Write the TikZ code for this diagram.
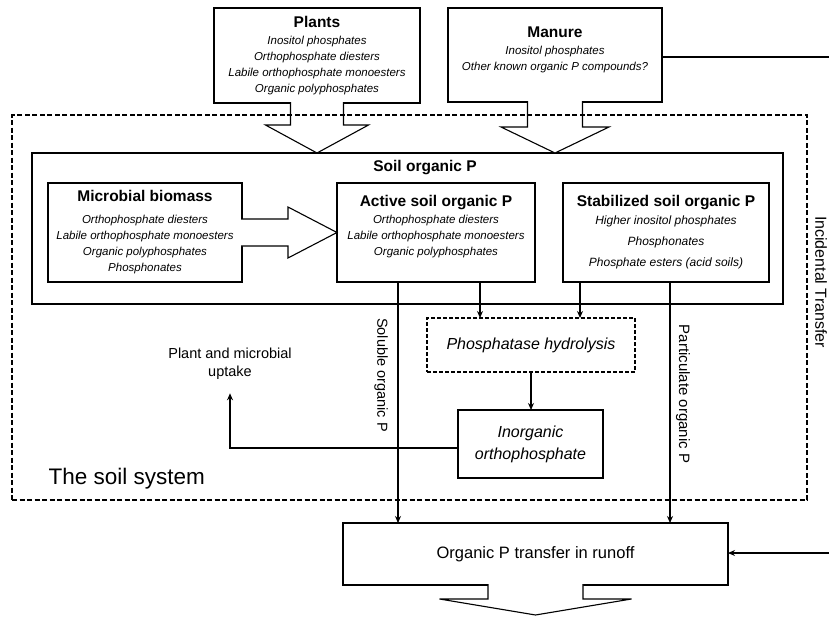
\documentclass[tikz,border=0pt]{standalone}
\usepackage{fontspec}
\setmainfont{Liberation Sans}
\usetikzlibrary{arrows.meta,calc}
\newcommand{\boxtitle}{\fontsize{15.5}{18}\selectfont\bfseries\upshape}
\begin{document}
\begin{tikzpicture}[x=1pt,y=1pt,
  box/.style={draw, line width=1.1pt, inner sep=0pt, outer sep=0pt, align=center},
  dbox/.style={box, dash pattern=on 5pt off 2.5pt},
  conn/.style={line width=1.1pt, -{Stealth[length=7pt,width=6pt]}},
  fat/.style={line width=1.1pt, fill=white},
  itl/.style={font=\fontsize{11.5}{16}\selectfont\itshape},
]
\useasboundingbox (0,0) rectangle (829,-616);

% main boxes
\node[box, minimum width=751pt, minimum height=151pt] (soilorg) at (407.5,-228.5) {};
\node[font=\boxtitle] (soiltitle) at (425,-168) {Soil organic P};

\node[box, itl, minimum width=206pt, minimum height=95pt] (plants) at (317,-55.5)
  {{\boxtitle Plants}\\[1pt] Inositol phosphates\\ Orthophosphate diesters\\ Labile orthophosphate monoesters\\ Organic polyphosphates};
\node[box, itl, minimum width=214pt, minimum height=94pt] (manure) at (555,-55)
  {{\boxtitle Manure}\\[1pt] Inositol phosphates\\ Other known organic P compounds?\\[-4pt]~};

\node[box, itl, minimum width=194pt, minimum height=99pt] (micro) at (145,-232.5)
  {{\boxtitle Microbial biomass}\\[6pt] Orthophosphate diesters\\ Labile orthophosphate monoesters\\ Organic polyphosphates\\ Phosphonates};
\node[box, itl, minimum width=198pt, minimum height=99pt] (active) at (436,-232.5)
  {{\boxtitle Active soil organic P}\\[1pt] Orthophosphate diesters\\ Labile orthophosphate monoesters\\ Organic polyphosphates\\[-2pt]~};
\node[box, font=\fontsize{12}{21}\selectfont\itshape, minimum width=206pt, minimum height=99pt] (stab) at (666,-232.5)
  {{\boxtitle Stabilized soil organic P}\\[-3pt] Higher inositol phosphates\\ Phosphonates\\ Phosphate esters (acid soils)};

\node[box, dash pattern=on 4pt off 2pt, font=\fontsize{16}{20}\selectfont\itshape, minimum width=208pt, minimum height=54pt] (phos) at (531,-345) {Phosphatase hydrolysis};
\node[box, font=\fontsize{16}{22}\selectfont\itshape, minimum width=145pt, minimum height=68pt] (inorg) at (530.5,-444) {Inorganic\\orthophosphate};
\node[box, font=\fontsize{16.5}{20}\selectfont, minimum width=385pt, minimum height=62pt] (runoff) at (535.5,-554) {Organic P transfer in runoff};

% fat arrows
\filldraw[fat] ($(plants.south)+(-26.5,0.8)$) -- ++(0,-22.8) -- ++(-25,0)
  -- (plants.south |- soilorg.north) -- ($(plants.south)+(51.5,-22)$) -- ++(-25,0) -- ++(0,22.8);
\filldraw[fat] ($(manure.south)+(-27.5,0.8)$) -- ++(0,-25.8) -- ++(-26.5,0)
  -- (manure.south |- soilorg.north) -- ($(manure.south)+(54,-25)$) -- ++(-26.5,0) -- ++(0,25.8);
\filldraw[fat] ($(micro.east)+(-0.8,13.5)$) -- ++(46.8,0) -- ++(0,12)
  -- (micro.east -| active.west) -- ($(micro.east)+(46,-25.5)$) -- ++(0,12) -- ++(-46.8,0);
\filldraw[fat] ($(runoff.south)+(-47.5,0.8)$) -- ++(0,-14.8) -- ++(-48.5,0)
  -- ($(runoff.south)+(0,-30)$) -- ($(runoff.south)+(96,-14)$) -- ++(-48.5,0) -- ++(0,14.8);

% soil system
\node[dbox, minimum width=795pt, minimum height=385pt] (soilsys) at (409.5,-307.5) {};
\node[anchor=west, font=\fontsize{22.5}{26}\selectfont] (soiltext) at (45,-479) {The soil system};

% connectors
\coordinate (a2p) at ($(active.south)+(44,0)$);
\draw[conn] (a2p) -- (a2p |- phos.north);
\coordinate (s2p) at ($(stab.south)+(-86,0)$);
\draw[conn] (s2p) -- (s2p |- phos.north);
\draw[conn] (phos.south) -- (phos.south |- inorg.north);

\coordinate (solt) at ($(active.south)+(-38,0)$);
\draw[conn] (solt) -- (solt |- runoff.north);
\coordinate (s2r) at ($(stab.south)+(4,0)$);
\draw[conn] (s2r) -- (s2r |- runoff.north);

\node[font=\fontsize{14.5}{18}\selectfont, align=center] (uptake) at (230,-364) {Plant and microbial\\uptake};
\draw[conn, shorten >=10pt] ([yshift=-4pt]inorg.west) -| (uptake.south);

\node[rotate=-90, font=\fontsize{14.5}{17}\selectfont] (sollab) at (381,-375) {Soluble organic P};
\node[rotate=-90, font=\fontsize{15}{17}\selectfont] (partlab) at (683,-394) {Particulate organic P};
\node[rotate=-90, font=\fontsize{16}{18}\selectfont] (inclab) at (821,-282) {Incidental Transfer};

\coordinate (mright) at (829,-57);
\draw[line width=1.1pt] ([yshift=-2pt]manure.east) -- (mright);
\coordinate (iright) at (829,-553);
\draw[conn] (iright) -- (iright -| runoff.east);
\end{tikzpicture}
\end{document}
